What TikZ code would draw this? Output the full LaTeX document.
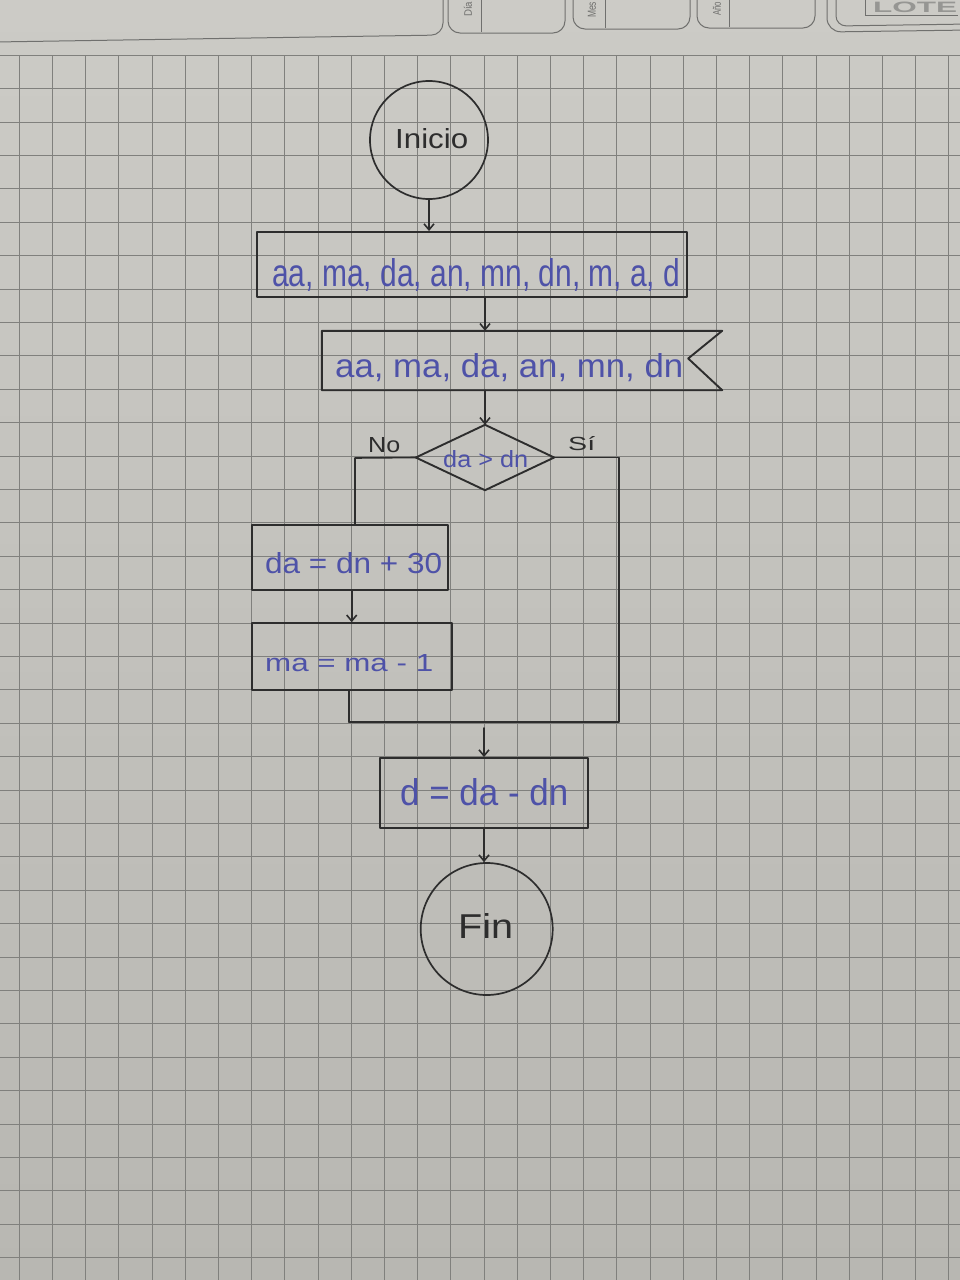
\documentclass[tikz,border=0pt]{standalone}
\usepackage{fontspec}
\setmainfont{Liberation Sans}
\usetikzlibrary{arrows.meta,calc}

\definecolor{papertop}{RGB}{204,203,198}
\definecolor{paperbot}{RGB}{184,183,178}
\definecolor{gridc}{RGB}{128,128,125}
\definecolor{pen}{RGB}{45,45,45}
\definecolor{ink}{RGB}{78,82,168}
\definecolor{printc}{RGB}{112,112,110}
\definecolor{printlight}{RGB}{150,150,147}

% handwritten label squeezed into a given width and height (in pt)
\newcommand{\hw}[3]{\resizebox{#1pt}{#2pt}{#3}}

\tikzset{
  stroke/.style={draw=pen, line width=1.9pt, line join=round, line cap=round},
  boxnode/.style={rectangle, inner sep=0pt, stroke},
  shapebox/.style={rectangle, inner sep=0pt, draw=none},
  termnode/.style={circle, inner sep=0pt, draw=pen, line width=1.7pt},
  flow/.style={draw=pen, line width=1.6pt, line cap=round, line join=round},
  flowarrow/.style={flow, -{Straight Barb[length=6pt,width=10pt]}},
  inktext/.style={inner sep=0pt, anchor=base west, text=ink},
  pentext/.style={inner sep=0pt, anchor=base west, text=pen},
  gridline/.style={draw=gridc, line width=1pt},
  printline/.style={draw=printc, line width=1pt},
  printlabel/.style={text=printc, rotate=90, anchor=west, inner sep=0pt},
}

\begin{document}
\begin{tikzpicture}[x=1pt,y=-1pt]
\clip (0,0) rectangle (960,1280);
\useasboundingbox (0,0) rectangle (960,1280);

% paper
\shade[top color=papertop, bottom color=paperbot] (0,0) rectangle (960,1280);

% printed header of the sheet
\draw[printline, rounded corners=12pt] (-5,42) -- (443,35) -- (443,-10);
\draw[printline, rounded corners=12pt] (448,-10) -- (448,33) -- (565,33) -- (565,-10);
\draw[printline] (481,-2) -- (481,32);
\draw[printline, rounded corners=12pt] (573,-10) -- (573,29) -- (690,29) -- (690,-10);
\draw[printline] (605,-2) -- (605,28);
\draw[printline, rounded corners=12pt] (697,-10) -- (697,28) -- (815,28) -- (815,-10);
\draw[printline] (729,-2) -- (729,27);
\draw[printline, rounded corners=14pt] (827,-10) -- (827,32) -- (970,30);
\draw[printline, rounded corners=10pt] (836,-10) -- (836,26) -- (970,24);
\draw[printline] (865,-10) -- (865,15) -- (958,15);
\node[printlabel] (hday) at (468,17) {\hw{15}{8}{Día}};
\node[printlabel] (hmonth) at (592,18) {\hw{16}{8}{Mes}};
\node[printlabel] (hyear) at (717,16) {\hw{14}{8}{Año}};
\node[inner sep=0pt, anchor=base west, text=printlight, font=\bfseries] (hlot) at (873,12.5)
  {\hw{84}{10.5}{LOTE}};

% squared grid
\foreach \k in {-7,...,21}
  \draw[gridline] ({251.7+33.2*\k},55.3) -- ({251.7+33.2*\k},1290);
\foreach \k in {-11,...,25}
  \draw[gridline] (-5,{422.7+33.4*\k}) -- (965,{422.7+33.4*\k});

% flowchart shapes
\node[termnode, minimum size=118pt] (ini) at (429,140) {};
\node[boxnode, minimum width=430pt, minimum height=65pt] (b1) at (472,264.5) {};
\node[shapebox, minimum width=400pt, minimum height=59pt] (b2) at (522,360.5) {};
\draw[stroke] (b2.north west) -- (b2.north east) -- ($(b2.east)+(-34,-2)$)
              -- (b2.south east) -- (b2.south west) -- cycle;
\node[shapebox, minimum width=138pt, minimum height=65pt] (dec) at (485,457.5) {};
\draw[stroke] (dec.north) -- (dec.east) -- (dec.south) -- (dec.west) -- cycle;
\node[boxnode, minimum width=196pt, minimum height=65pt] (b3) at (350,557.5) {};
\node[boxnode, minimum width=200pt, minimum height=67pt] (b4) at (351.7,656.7) {};
\node[boxnode, minimum width=208pt, minimum height=70pt] (b5) at (484,793) {};
\node[termnode, minimum size=132pt] (fin) at (486.7,929) {};

% connectors
\coordinate (nocorner) at (355,458);
\coordinate (sicorner) at (619,457.5);
\coordinate (join) at (619,722);
\coordinate (joinleft) at (349,722);
\coordinate (mergepoint) at (484,728);

\draw[flowarrow] (ini.south) -- (ini.south |- b1.north);
\draw[flowarrow] (dec.north |- b1.south) -- (dec.north |- b2.north);
\draw[flowarrow] (dec.north |- b2.south) -- (dec.north);
\draw[flow] (dec.west) -- (nocorner) -- (nocorner |- b3.north);
\draw[flow] (dec.east) -- (sicorner) -- (join) -- (joinleft);
\draw[flowarrow] (b4.north |- b3.south) -- (b4.north);
\draw[flow] (b4.south -| joinleft) -- (joinleft);
\draw[flowarrow] (mergepoint) -- (b5.north);
\draw[flowarrow] (b5.south) -- (b5.south |- fin.north);

% texts
\node[pentext] (tini) at (395,148) {\hw{73}{20}{Inicio}};
\node[inktext] (t1) at (272,286) {\hw{408}{28}{aa, ma, da, an, mn, dn, m, a, d}};
\node[inktext] (t2) at (335,377) {\hw{348}{24}{aa, ma, da, an, mn, dn}};
\node[inktext] (tdec) at (443,467) {\hw{85}{17}{da > dn}};
\node[pentext] (tno) at (368,452) {\hw{32}{15}{No}};
\node[pentext] (tsi) at (568,450) {\hw{27}{14}{Sí}};
\node[inktext] (t3) at (265,573) {\hw{177}{21}{da = dn + 30}};
\node[inktext] (t4) at (265,671) {\hw{168}{17}{ma = ma - 1}};
\node[inktext] (t5) at (400,805) {\hw{168}{27}{d = da - dn}};
\node[pentext] (tfin) at (458,938) {\hw{55}{25}{Fin}};
\end{tikzpicture}
\end{document}
